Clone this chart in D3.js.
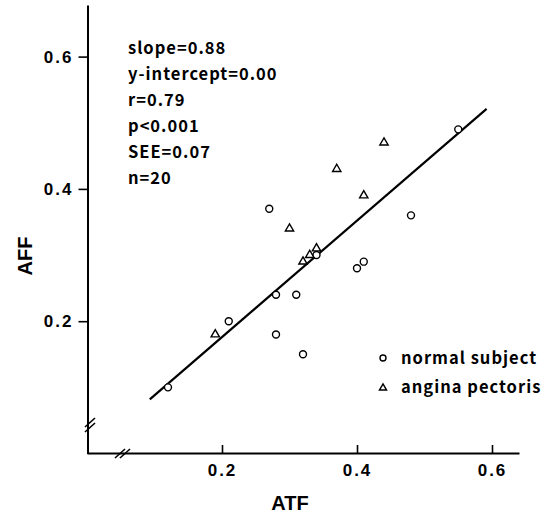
<!DOCTYPE html>
<html>
<head>
<meta charset="utf-8">
<script src="https://cdn.jsdelivr.net/npm/d3@7"></script>
<style>
  body { margin: 0; background: #fff; }
  svg { display: block; }
</style>
</head>
<body>
<div id="chart"></div>
<script>
// Data
const normalATF = [0.12, 0.21, 0.27, 0.34, 0.40, 0.28, 0.31, 0.28, 0.32, 0.48, 0.41, 0.55];
const normalAFF = [0.10, 0.20, 0.37, 0.30, 0.28, 0.24, 0.24, 0.18, 0.15, 0.36, 0.29, 0.49];
const anginaATF = [0.19, 0.30, 0.32, 0.33, 0.34, 0.44, 0.37, 0.41];
const anginaAFF = [0.18, 0.34, 0.29, 0.30, 0.31, 0.47, 0.43, 0.39];
const xTicks = [0.2, 0.4, 0.6];
const yTicks = [0.2, 0.4, 0.6];
const statLines = ["slope=0.88", "y-intercept=0.00", "r=0.79", "p<0.001", "SEE=0.07", "n=20"];
const fitSlope = 0.88, fitIntercept = 0.00;
const fitRange = [0.093, 0.592];
const legendLabels = ["normal subject", "angina pectoris"];

const W = 552, H = 514;

const svg = d3.select("#chart")
  .append("svg")
    .attr("width", W)
    .attr("height", H);

// Scales (origin at the axis corner)
const x = d3.scaleLinear().domain([0, 0.64]).range([87, 519]);
const y = d3.scaleLinear().domain([0, 0.678]).range([453.5, 5]);

const tickFont = "'Liberation Sans', Arial, sans-serif";
const textFont = "'Noto Sans CJK JP', 'Noto Sans', sans-serif";

// X axis
const xAxis = svg.append("g")
  .attr("transform", `translate(0,${y(0) - 0.5})`)
  .call(d3.axisBottom(x).tickValues(xTicks).tickSize(-8).tickSizeOuter(0).tickPadding(11)
    .tickFormat(d3.format(".1f")));

// Y axis
const yAxis = svg.append("g")
  .attr("transform", `translate(${x(0) + 0.5},0)`)
  .call(d3.axisLeft(y).tickValues(yTicks).tickSize(9).tickSizeOuter(0).tickPadding(5)
    .tickFormat(d3.format(".1f")));

[xAxis, yAxis].forEach(g => {
  g.select(".domain").attr("stroke", "#000").attr("stroke-width", 2);
  g.selectAll(".tick line").attr("stroke", "#000").attr("stroke-width", 1.6);
  g.selectAll(".tick text")
    .attr("fill", "#000")
    .style("font-family", tickFont)
    .style("font-size", "17px")
    .style("font-weight", "bold")
    .style("letter-spacing", "2px");
});

// Axis breaks
const brk = svg.append("g").attr("stroke", "#000").attr("stroke-width", 1.6).attr("fill", "none");
[0, 5].forEach(o => {
  brk.append("line").attr("x1", 115 + o).attr("y1", 458).attr("x2", 125 + o).attr("y2", 449);
  brk.append("line").attr("x1", 85).attr("y1", 432 - o).attr("x2", 95).attr("y2", 423 - o);
});

// Axis titles
svg.append("text")
  .attr("x", 290)
  .attr("y", 510)
  .attr("text-anchor", "middle")
  .style("font-family", tickFont)
  .style("font-size", "20px")
  .style("font-weight", "bold")
  .text("ATF");

svg.append("text")
  .attr("transform", `translate(32,256) rotate(-90)`)
  .attr("text-anchor", "middle")
  .style("font-family", tickFont)
  .style("font-size", "20px")
  .style("font-weight", "bold")
  .text("AFF");

// Regression line
svg.append("line")
  .attr("x1", x(fitRange[0]))
  .attr("y1", y(fitSlope * fitRange[0] + fitIntercept))
  .attr("x2", x(fitRange[1]))
  .attr("y2", y(fitSlope * fitRange[1] + fitIntercept))
  .attr("stroke", "#000")
  .attr("stroke-width", 2.2);

// Points
const triangle = d3.symbol().type(d3.symbolTriangle).size(30);

svg.append("g")
  .selectAll("circle")
  .data(normalATF.map((v, i) => [v, normalAFF[i]]))
  .join("circle")
    .attr("cx", d => x(d[0]))
    .attr("cy", d => y(d[1]))
    .attr("r", 3.5)
    .attr("fill", "#fff")
    .attr("stroke", "#000")
    .attr("stroke-width", 1.4);

svg.append("g")
  .selectAll("path")
  .data(anginaATF.map((v, i) => [v, anginaAFF[i]]))
  .join("path")
    .attr("d", triangle)
    .attr("transform", d => `translate(${x(d[0])},${y(d[1])})`)
    .attr("fill", "#fff")
    .attr("stroke", "#000")
    .attr("stroke-width", 1.4);

// Statistics block
svg.append("g")
  .selectAll("text")
  .data(statLines)
  .join("text")
    .attr("x", 128)
    .attr("y", (d, i) => 54 + i * 26)
    .style("font-family", textFont)
    .style("font-size", "16.5px")
    .style("font-weight", "bold")
    .style("letter-spacing", "1px")
    .text(d => d);

// Legend
const legend = svg.append("g");
legend.append("circle")
  .attr("cx", 383).attr("cy", 358).attr("r", 3)
  .attr("fill", "#fff").attr("stroke", "#000").attr("stroke-width", 1.4);
legend.append("path")
  .attr("d", d3.symbol().type(d3.symbolTriangle).size(22))
  .attr("transform", "translate(383,388)")
  .attr("fill", "#fff").attr("stroke", "#000").attr("stroke-width", 1.4);
legend.selectAll("text")
  .data(legendLabels)
  .join("text")
    .attr("x", 401)
    .attr("y", (d, i) => 364 + i * 29)
    .style("font-family", textFont)
    .style("font-size", "16.5px")
    .style("font-weight", "bold")
    .style("letter-spacing", "1px")
    .text(d => d);
</script>
</body>
</html>
